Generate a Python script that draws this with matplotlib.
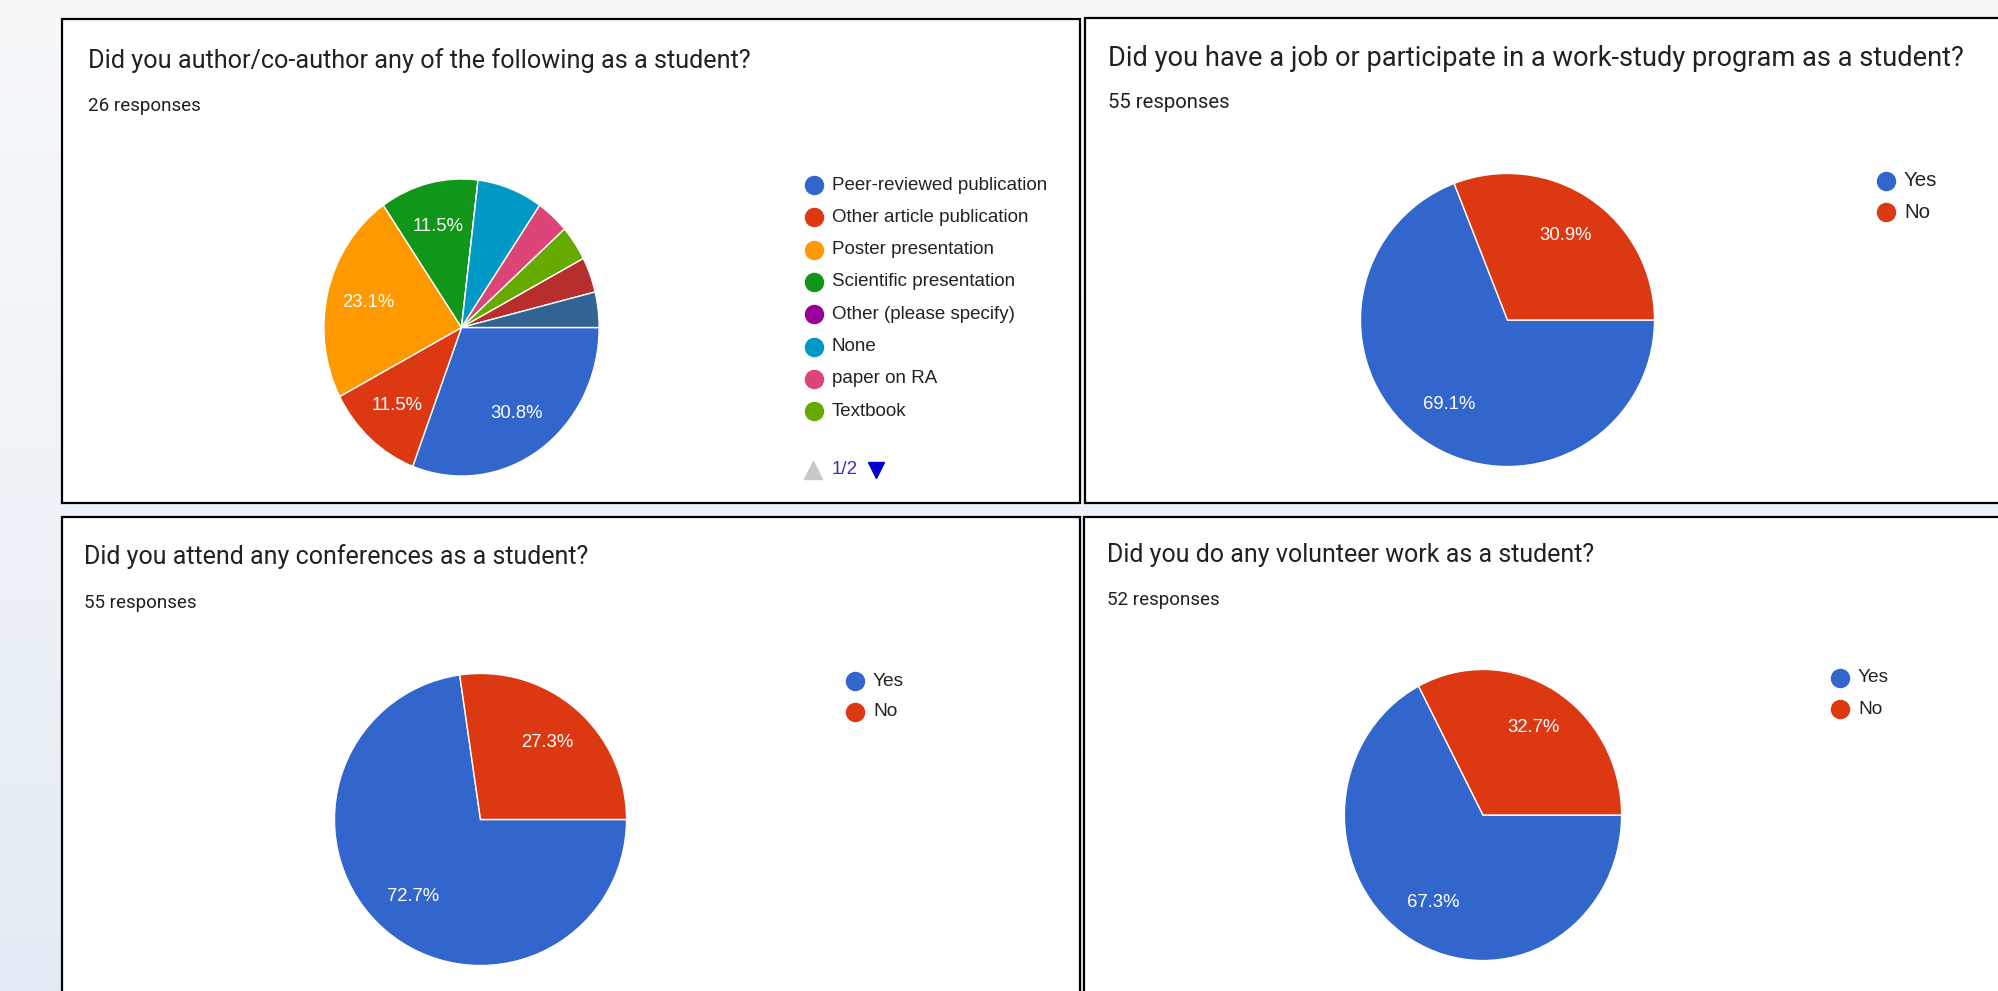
import numpy as np
import matplotlib
matplotlib.use("Agg")
import matplotlib.pyplot as plt
from matplotlib.patches import Rectangle

author_labels = ["Peer-reviewed publication", "Other article publication", "Poster presentation",
                 "Scientific presentation", "Other (please specify)", "None", "paper on RA",
                 "Textbook", "Other (page 2, a)", "Other (page 2, b)"]
author_counts = [8, 3, 6, 3, 0, 2, 1, 1, 1, 1]

yes_no = ["Yes", "No"]
job_counts = [38, 17]
conf_counts = [40, 15]
volunteer_counts = [35, 17]

titles = ["Did you author/co-author any of the following as a student?",
          "Did you have a job or participate in a work-study program as a student?",
          "Did you attend any conferences as a student?",
          "Did you do any volunteer work as a student?"]
responses = ["26 responses", "55 responses", "55 responses", "52 responses"]

gcolors = ["#3366cc", "#dc3912", "#ff9900", "#109618", "#990099",
           "#0099c6", "#dd4477", "#66aa00", "#b82e2e", "#316395"]

W, H = 1999, 991
fig = plt.figure(figsize=(W / 100, H / 100), dpi=100)

# overlay axes in pixel coords for background, panels and text
ov = fig.add_axes([0, 0, 1, 1])
ov.set_xlim(0, W)
ov.set_ylim(H, 0)
ov.axis("off")

grad = np.linspace(0, 1, 256).reshape(-1, 1)
top = np.array([0.969, 0.976, 0.984])
bot = np.array([0.890, 0.925, 0.957])
img = top + (bot - top) * grad[..., None]
ov.imshow(img, extent=[0, W, H, 0], aspect="auto", zorder=0)

panels = [(62, 19, 1080, 503), (1085, 18, 2010, 503),
          (62, 517, 1080, 1005), (1084, 517, 2010, 1005)]
for x0, y0, x1, y1 in panels:
    ov.add_patch(Rectangle((x0, y0), x1 - x0, y1 - y0, facecolor="white",
                           edgecolor="black", linewidth=1.6, zorder=1))

# (x, title y, responses y, title size, responses size) - top right panel is a bit wider in the shot
title_pos = [(88, 61, 106, 18.2, 13.5), (1108, 58, 102, 19.6, 14.6),
             (84, 557, 603, 18.0, 13.5), (1107, 555, 600, 18.0, 13.5)]
for (tx, ty, ry, ts, rs), t, r in zip(title_pos, titles, responses):
    ov.text(tx, ty, t, fontsize=ts, family="Roboto", color="#202124", va="center", ha="left", zorder=3)
    ov.text(tx, ry, r, fontsize=rs, family="Roboto", color="#202124", va="center", ha="left", zorder=3)


def pct_fmt(p):
    return f"{p:.1f}%" if p >= 10 else ""


def draw_pie(counts, colors, cx, cy, rx, ry):
    ax = fig.add_axes([(cx - rx) / W, 1 - (cy + ry) / H, 2 * rx / W, 2 * ry / H])
    wedges, texts, autotexts = ax.pie(counts, colors=colors, startangle=0, counterclock=False,
                                      autopct=pct_fmt, pctdistance=0.7,
                                      wedgeprops=dict(edgecolor="white", linewidth=1))
    for t in autotexts:
        t.set_color("white")
        t.set_fontsize(13.3)
        t.set_family("Liberation Sans")
    ax.set_aspect("auto")
    ax.set_xlim(-1.01, 1.01)
    ax.set_ylim(-1.01, 1.01)
    ax.axis("off")
    return ax


draw_pie(author_counts, gcolors, 461.5, 327.5, 139, 150)
draw_pie(job_counts, gcolors[:2], 1507.5, 320, 148.5, 148)
draw_pie(conf_counts, gcolors[:2], 480.5, 819.5, 147.5, 147.5)
draw_pie(volunteer_counts, gcolors[:2], 1483, 815, 140, 147)

# legends
leg_font = dict(family="Liberation Sans", color="#222222", va="center", ha="left", zorder=3)
for i, lab in enumerate(author_labels[:8]):
    y = 185 + i * 32.3
    ov.plot(814, y, "o", ms=13, color=gcolors[i], zorder=3)
    ov.text(832, y, lab, fontsize=13.5, **leg_font)
ov.plot(813, 470, "^", ms=13, color="#c8c8c8", zorder=3)
ov.text(832, 470, "1/2", fontsize=13.5, family="Liberation Sans", color="#3333cc", va="center", ha="left", zorder=3)
ov.plot(876, 470, "v", ms=12, color="#0000cc", zorder=3)

for mx, my, fs in [(1886, 181, 14.8), (855, 681, 13.8), (1840, 678, 13.8)]:
    for j, lab in enumerate(yes_no):
        y = my + j * 31
        ov.plot(mx, y, "o", ms=13, color=gcolors[j], zorder=3)
        ov.text(mx + 18, y, lab, fontsize=fs, **leg_font)

fig.savefig("out.png", dpi=100)
